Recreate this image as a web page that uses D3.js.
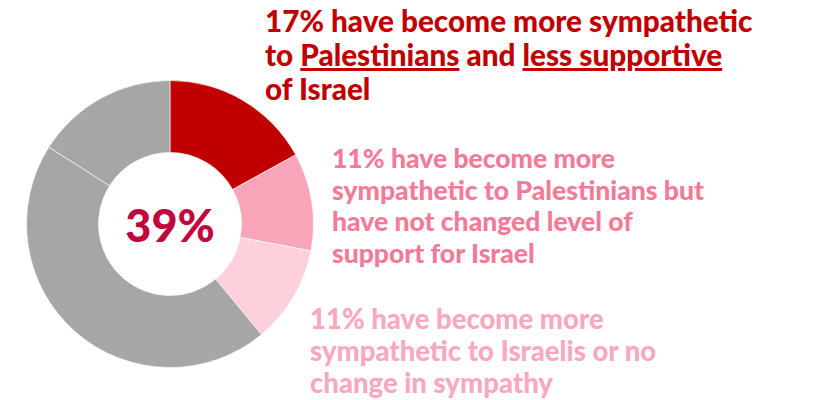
<!DOCTYPE html>
<html>
<head>
<meta charset="utf-8">
<script src="https://cdn.jsdelivr.net/npm/d3@7"></script>
<style>
  body { margin: 0; background: #fff; }
  svg { display: block; font-family: Lato, "Open Sans", sans-serif; font-weight: 900; }
</style>
</head>
<body>
<svg id="chart" width="823" height="400"></svg>
<script>
const width = 823, height = 400;

// slices, clockwise from 12 o'clock
const segments = ["morePalLessIsr", "morePalSameIsr", "moreIsrOrNone", "other1", "other2"];
const shares = [17, 11, 11, 45, 16];
const sliceColors = ["#c00000", "#f8a5ba", "#fdd0dc", "#a6a6a6", "#a6a6a6"];

const centerLabel = "39%";

// annotation text, one entry per line; underlined words marked with _ ... _
const label1 = ["17% have become more sympathetic", "to _Palestinians_ and _less supportive_", "of Israel"];
const label2 = ["11% have become more", "sympathetic to Palestinians but", "have not changed level of", "support for Israel"];
const label3 = ["11% have become more", "sympathetic to Israelis or no", "change in sympathy"];

const svg = d3.select("#chart");

const cx = 170, cy = 224;
const outerR = 143.5, innerR = 71.5;

const pie = d3.pie().sort(null).value(d => d.v);
const arc = d3.arc().innerRadius(innerR).outerRadius(outerR);

const slices = pie(segments.map((k, i) => ({k: k, v: shares[i], c: sliceColors[i]})));

const g = svg.append("g").attr("transform", `translate(${cx},${cy})`);
g.selectAll("path")
    .data(slices)
    .enter().append("path")
    .attr("d", arc)
    .attr("fill", d => d.data.c)
    .attr("stroke", "#fff")
    .attr("stroke-width", 0.6);

g.append("text")
    .attr("text-anchor", "middle")
    .attr("y", 18)
    .attr("fill", "#c0063c")
    .style("font-size", "45px")
    .text(centerLabel);

function block(lines, x, y0, step, size, color) {
    const t = svg.append("text")
        .attr("fill", color)
        .style("font-size", size + "px");
    lines.forEach((line, i) => {
        const row = t.append("tspan").attr("x", x).attr("y", y0 + i * step);
        line.split("_").forEach((part, j) => {
            if (!part) return;
            const s = row.append("tspan").text(part);
            if (j % 2 === 1) s.style("text-decoration", "underline");
        });
    });
}

block(label1, 265, 32, 34, 29.7, "#c00000");
block(label2, 332, 168, 31.7, 26.5, "#f47a97");
block(label3, 310, 329, 32, 27.5, "#f9a8bd");
</script>
</body>
</html>
